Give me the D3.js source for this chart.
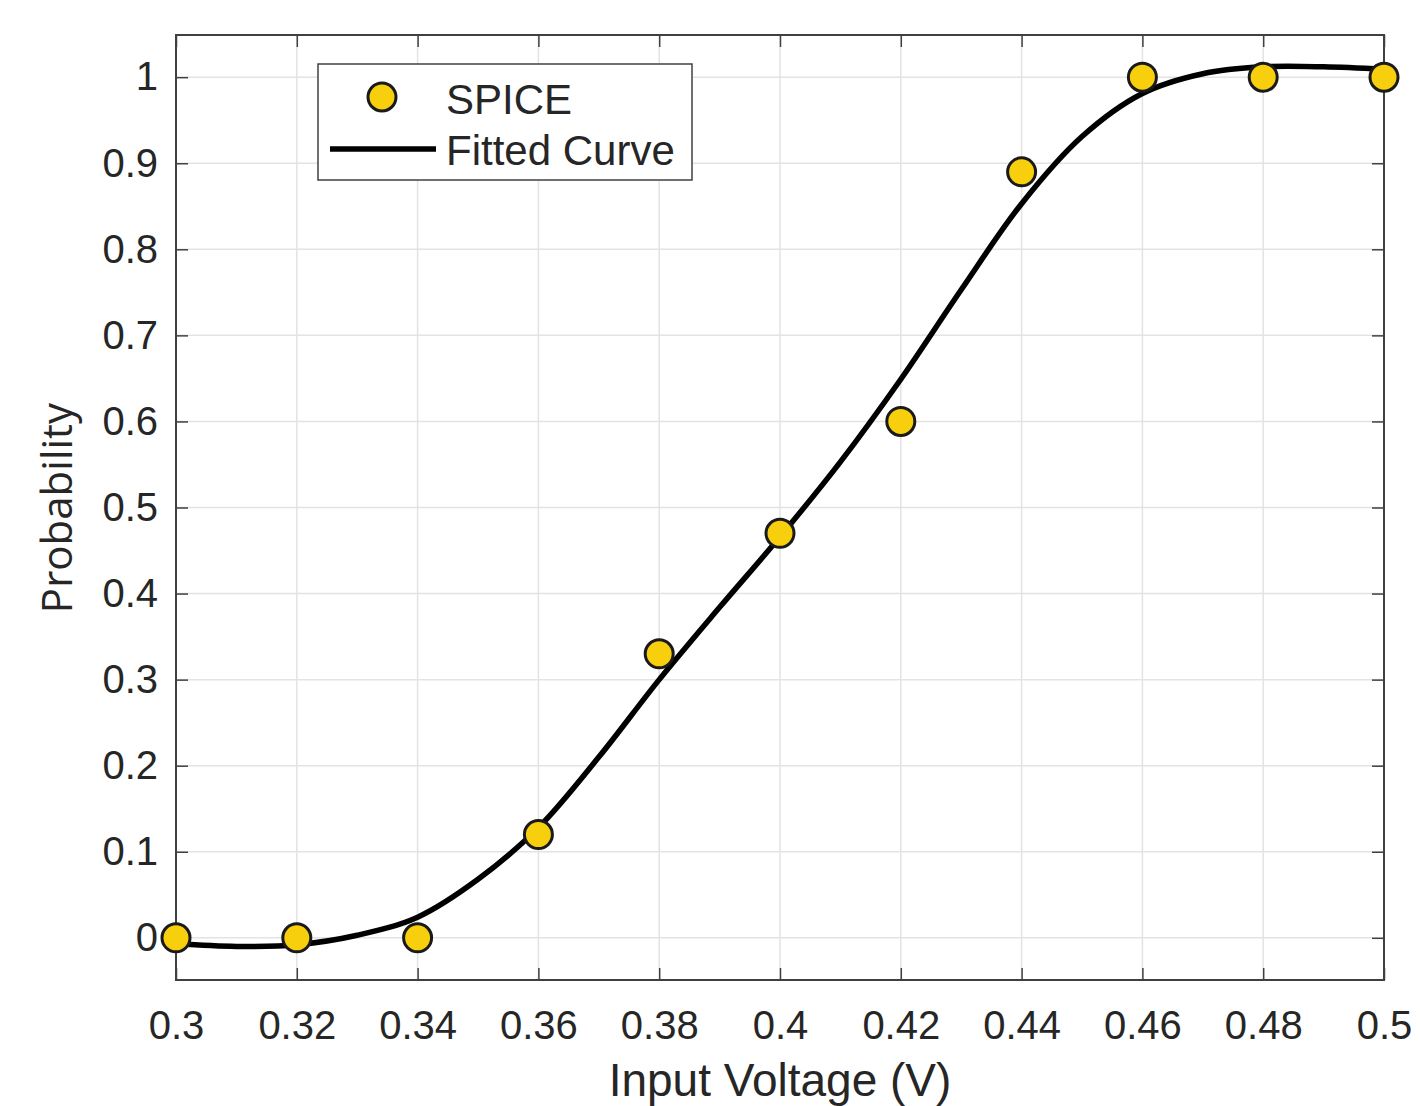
<!DOCTYPE html>
<html>
<head>
<meta charset="utf-8">
<script src="https://cdn.jsdelivr.net/npm/d3@7"></script>
<style>
  body { margin: 0; background: #fff; }
  text { font-family: "Liberation Sans", Arial, sans-serif; fill: #262626; }
</style>
</head>
<body>
<svg id="chart" width="1420" height="1106"></svg>
<script>
// SPICE simulation points
var spiceX = [0.30, 0.32, 0.34, 0.36, 0.38, 0.40, 0.42, 0.44, 0.46, 0.48, 0.50];
var spiceY = [0, 0, 0, 0.12, 0.33, 0.47, 0.60, 0.89, 1, 1, 1];

// fitted curve
var fitX = [0.30, 0.31, 0.32, 0.33, 0.34, 0.35, 0.36, 0.37, 0.38, 0.39, 0.40,
            0.41, 0.42, 0.43, 0.44, 0.45, 0.46, 0.47, 0.48, 0.49, 0.50];
var fitY = [-0.007, -0.010, -0.008, 0.003, 0.024, 0.068, 0.128, 0.21, 0.30, 0.384, 0.466,
            0.553, 0.649, 0.753, 0.853, 0.931, 0.981, 1.004, 1.012, 1.012, 1.009];

var xTicks = [0.3, 0.32, 0.34, 0.36, 0.38, 0.4, 0.42, 0.44, 0.46, 0.48, 0.5];
var yTicks = [0, 0.1, 0.2, 0.3, 0.4, 0.5, 0.6, 0.7, 0.8, 0.9, 1];

var box = {l: 176, r: 1384, t: 35, b: 980};
var svg = d3.select('#chart');

var x = d3.scaleLinear().domain([0.3, 0.5]).range([box.l, box.r]);
var y = d3.scaleLinear().domain([-0.049, 1.049]).range([box.b, box.t]);

// grid
var grid = svg.append('g').attr('stroke', '#e3e3e3').attr('stroke-width', 1.5);
grid.selectAll('.gx').data(xTicks).enter().append('line')
  .attr('x1', function(d){ return x(d); }).attr('x2', function(d){ return x(d); })
  .attr('y1', box.t).attr('y2', box.b);
grid.selectAll('.gy').data(yTicks).enter().append('line')
  .attr('x1', box.l).attr('x2', box.r)
  .attr('y1', function(d){ return y(d); }).attr('y2', function(d){ return y(d); });

// axes (ticks inside, box on)
var fmt = function(d){ return String(+d.toFixed(2)); };
var tl = 12;
svg.append('g').attr('transform', 'translate(0,' + box.b + ')')
  .call(d3.axisBottom(x).tickValues(xTicks).tickSizeInner(-tl).tickSizeOuter(0).tickPadding(31).tickFormat(fmt));
svg.append('g').attr('transform', 'translate(0,' + box.t + ')')
  .call(d3.axisTop(x).tickValues(xTicks).tickSizeInner(-tl).tickSizeOuter(0).tickFormat(''));
svg.append('g').attr('transform', 'translate(' + box.l + ',0)')
  .call(d3.axisLeft(y).tickValues(yTicks).tickSizeInner(-tl).tickSizeOuter(0).tickPadding(18).tickFormat(fmt));
svg.append('g').attr('transform', 'translate(' + box.r + ',0)')
  .call(d3.axisRight(y).tickValues(yTicks).tickSizeInner(-tl).tickSizeOuter(0).tickFormat(''));

svg.selectAll('.domain').remove();
svg.selectAll('.tick line').attr('stroke', '#404040').attr('stroke-width', 1.5);
svg.selectAll('.tick text').style('font-size', '40px').attr('fill', '#262626');

svg.append('rect')
  .attr('x', box.l).attr('y', box.t)
  .attr('width', box.r - box.l).attr('height', box.b - box.t)
  .attr('fill', 'none').attr('stroke', '#404040').attr('stroke-width', 2);

// fitted curve
var line = d3.line()
  .x(function(d, i){ return x(fitX[i]); })
  .y(function(d){ return y(d); })
  .curve(d3.curveCatmullRom.alpha(0.5));
svg.append('path')
  .attr('d', line(fitY))
  .attr('fill', 'none').attr('stroke', '#000').attr('stroke-width', 5.5);

// SPICE markers
svg.selectAll('.dot').data(spiceY).enter().append('circle')
  .attr('class', 'dot')
  .attr('cx', function(d, i){ return x(spiceX[i]); })
  .attr('cy', function(d){ return y(d); })
  .attr('r', 14)
  .attr('fill', '#f7cf0c').attr('stroke', '#1a1a1a').attr('stroke-width', 3);

// axis titles
svg.append('text').attr('x', 780).attr('y', 1096)
  .attr('text-anchor', 'middle').style('font-size', '46px').text('Input Voltage (V)');
svg.append('text').attr('transform', 'translate(72,508) rotate(-90)')
  .attr('text-anchor', 'middle').style('font-size', '42px')
  .style('font-family', '"Open Sans", sans-serif').text('Probability');

// legend
var lg = svg.append('g');
lg.append('rect').attr('x', 318).attr('y', 64).attr('width', 374).attr('height', 116)
  .attr('fill', '#fff').attr('stroke', '#404040').attr('stroke-width', 1.5);
lg.append('circle').attr('cx', 382).attr('cy', 97).attr('r', 14)
  .attr('fill', '#f7cf0c').attr('stroke', '#1a1a1a').attr('stroke-width', 3);
lg.append('line').attr('x1', 330).attr('x2', 436).attr('y1', 149).attr('y2', 149)
  .attr('stroke', '#000').attr('stroke-width', 5.5);
lg.append('text').attr('x', 446).attr('y', 114).style('font-size', '42px').attr('fill', '#1a1a1a').text('SPICE');
lg.append('text').attr('x', 446).attr('y', 165).style('font-size', '42px').attr('fill', '#1a1a1a').text('Fitted Curve');
</script>
</body>
</html>
